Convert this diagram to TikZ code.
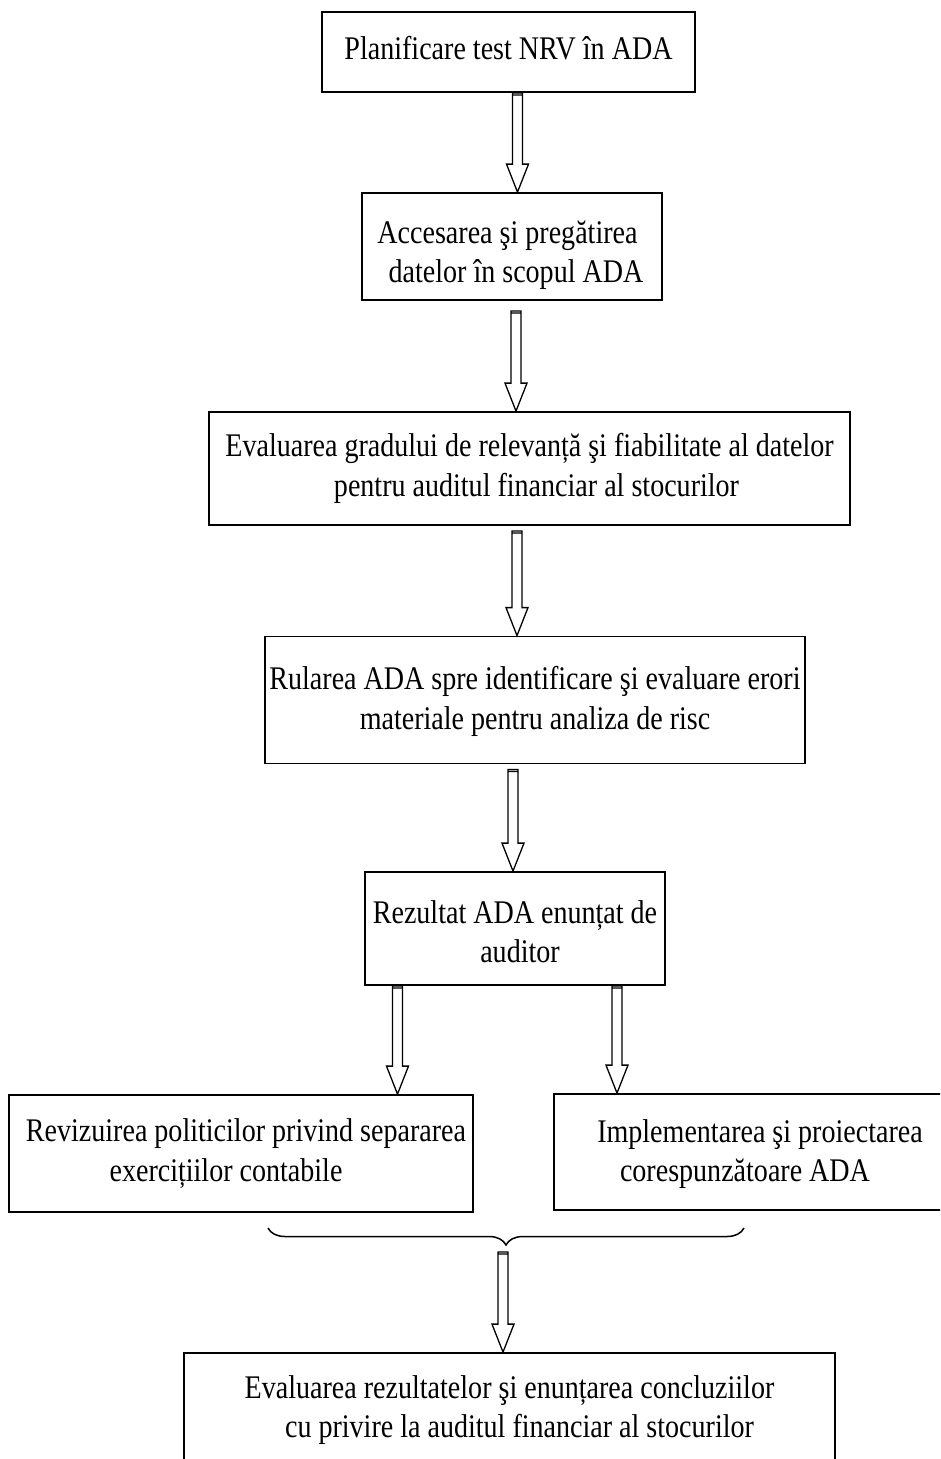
\documentclass[tikz,border=0pt]{standalone}
\usepackage{fontspec}
\newfontfamily\boxfont{Liberation Serif}[FakeStretch=0.85]
\usetikzlibrary{calc,decorations.pathreplacing}

\tikzset{
  % framed process step; the argument is the text height above the last
  % baseline, which sets the vertical placement of the lines in the frame
  stepbox/.style={draw=black, line width=1.8pt, inner sep=0pt, align=center,
    font=\boxfont\fontsize{33}{39.5}\selectfont,
    text height=#1, text depth=8pt},
  stepbox/.default=63pt,
  % hollow block arrow: narrow outlined shaft with an open triangular head,
  % running straight down from the start point to the level of the target
  hollow/.style={draw=black, line width=1.3pt, line join=miter, to path={
      let \p1=(\tikztostart), \p2=(\tikztotarget) in
      (\x1-5pt,\y1) -- (\x1-5pt,\y2+28pt) -- (\x1-11pt,\y2+28pt) -- (\x1,\y2)
      -- (\x1+11pt,\y2+28pt) -- (\x1+5pt,\y2+28pt) -- (\x1+5pt,\y1) -- cycle
      (\x1-5pt,\y1) rectangle (\x1+5pt,\y1-2pt)}},
  bracestyle/.style={draw=black, line width=1.5pt, decorate,
    decoration={brace, mirror, amplitude=17pt}},
}

\begin{document}
\begin{tikzpicture}[x=1pt,y=-1pt]
  \useasboundingbox (0,0) rectangle (940,1459);
  \fill[white] (0,0) rectangle (940,1459);
  \clip (0,0) rectangle (940,1459);

  % process steps
  \node[stepbox=23pt, minimum width=373pt, minimum height=80pt] (b1) at (508.5,52)
    {Planificare test NRV în ADA};
  \node[stepbox=80pt, minimum width=300pt, minimum height=107pt] (b2) at (512,246.5)
    {Accesarea şi pregătirea\hspace*{9pt}\\\hspace*{8pt}datelor în scopul ADA};
  \node[stepbox, minimum width=641pt, minimum height=113pt] (b3) at (529.5,468.5)
    {Evaluarea gradului de relevanță şi fiabilitate al datelor\\\hspace*{14pt}pentru auditul financiar al stocurilor};
  \node[stepbox=66pt, minimum width=540pt, minimum height=127pt] (b4) at (535,700)
    {Rularea ADA spre identificare şi evaluare erori\\materiale pentru analiza de risc};
  \node[stepbox=76pt, minimum width=300pt, minimum height=113pt] (b5) at (515,928.5)
    {Rezultat ADA enunțat de\\\hspace*{10pt}auditor};
  \node[stepbox, minimum width=464pt, minimum height=117pt] (b6) at (241,1153.5)
    {\hspace*{10pt}Revizuirea politicilor privind separarea\\exercițiilor contabile\hspace*{30pt}};
  \node[stepbox=67pt, minimum width=412pt, minimum height=116pt] (b7) at (760,1152)
    {Implementarea şi proiectarea\\corespunzătoare ADA\hspace*{30pt}};
  \node[stepbox, minimum width=651pt, minimum height=114pt] (b8) at (509.5,1410)
    {Evaluarea rezultatelor şi enunțarea concluziilor\\\hspace*{20pt}cu privire la auditul financiar al stocurilor};

  % brace gathering the two parallel steps
  \coordinate (bl) at (268,1228);
  \coordinate (br) at (744,1228);
  \coordinate (bt) at (505,1247);
  \draw[bracestyle] (bl) -- (br);

  % block arrows between the steps
  \draw[hollow] ([xshift=9pt]b1.south) to (b2.north);
  \draw[hollow] ([xshift=4pt,yshift=-10pt]b2.south) to (b3.north);
  \draw[hollow] ([xshift=-12.5pt,yshift=-5pt]b3.south) to (b4.north);
  \draw[hollow] ([xshift=-22pt,yshift=-5pt]b4.south) to (b5.north);
  \draw[hollow] ([xshift=-117.5pt]b5.south) to (b6.north);
  \draw[hollow] ([xshift=102pt]b5.south) to (b7.north);
  \draw[hollow] ([xshift=-2pt,yshift=-5pt]bt) to (b8.north);
\end{tikzpicture}
\end{document}
